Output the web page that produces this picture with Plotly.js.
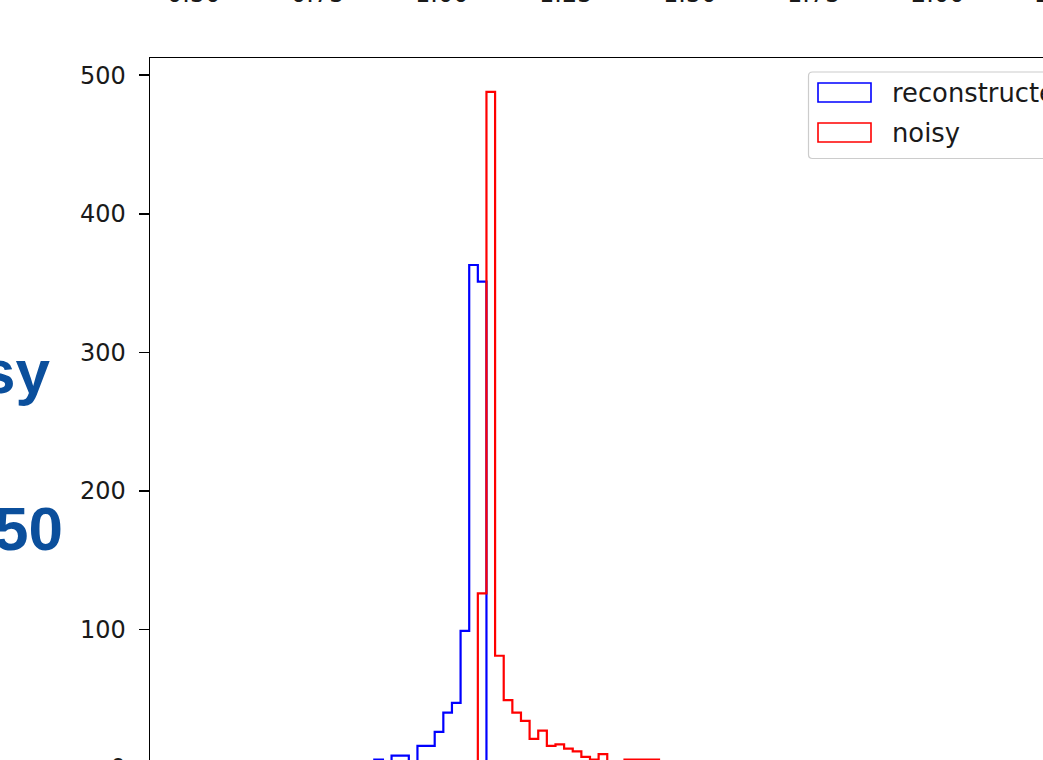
<!DOCTYPE html>
<html>
<head>
<meta charset="utf-8">
<script src="https://cdn.plot.ly/plotly-3.0.1.min.js"></script>
<style>
  html, body { margin: 0; padding: 0; width: 1043px; height: 760px; overflow: hidden; background: #fff; }
  #chart { width: 1200px; height: 800px; }
</style>
</head>
<body>
<div id="chart"></div>
<script>
// Histogram counts, 100 equal-width bins (bin index 0..99)
const reconstructedCounts = [
  1, 0, 0, 0, 1, 0, 0, 1, 0, 1,
  0, 1, 0, 1, 1, 0, 2, 1, 2, 3,
  2, 6, 4, 9, 9, 4, 16, 16, 26, 40,
  47, 99, 363, 351, 0, 0, 0, 0, 0, 0,
  0, 0, 0, 0, 0, 0, 0, 0, 0, 0,
  0, 0, 0, 0, 0, 0, 0, 0, 0, 0,
  0, 0, 0, 0, 0, 0, 0, 0, 0, 0,
  0, 0, 0, 0, 0, 0, 0, 0, 0, 0,
  0, 0, 0, 0, 0, 0, 0, 0, 0, 0,
  0, 0, 0, 0, 0, 0, 0, 0, 0, 0
];
const noisyCounts = [
  0, 0, 0, 0, 0, 0, 0, 0, 0, 0,
  0, 0, 0, 0, 0, 0, 0, 0, 0, 0,
  0, 0, 0, 0, 0, 0, 0, 0, 0, 0,
  0, 1, 3, 126, 488, 81, 49, 40, 34, 21,
  27, 16, 17, 14, 12, 8, 6, 10, 4, 3,
  6, 6, 6, 6, 3, 2, 4, 2, 1, 3,
  1, 2, 0, 1, 1, 0, 2, 1, 0, 1,
  1, 0, 0, 1, 0, 1, 0, 0, 1, 0,
  0, 1, 0, 0, 0, 1, 0, 0, 0, 0,
  1, 0, 0, 0, 0, 0, 0, 0, 0, 1
];
const seriesNames = ['reconstructed', 'noisy'];
const seriesColors = ['#0000ff', '#ff0000'];
const yTickValues = [0, 100, 200, 300, 400, 500];
const topAxisLabels = ['0.50', '0.75', '1.00', '1.25', '1.50', '1.75', '2.00', '2.25'];
const sideLabels = ['sy', '50'];

// Figure geometry (pixels)
const W = 1200, H = 800;
const M = { l: 150, t: 58, r: 101, b: 32 };
const plotW = W - M.l - M.r;
const plotH = H - M.t - M.b;
const px2fx = px => (px - M.l) / plotW;
const py2fy = py => (H - M.b - py) / plotH;

// Step outline of a histogram (outline only, like an unfilled step histogram)
function stepTrace(counts, name, color) {
  const x = [0];
  const y = [0];
  for (let i = 0; i < counts.length; i++) { x.push(i); y.push(counts[i]); }
  x.push(counts.length); y.push(0);
  return {
    type: 'scatter', mode: 'lines', name: name,
    x: x, y: y,
    line: { shape: 'hv', color: color, width: 2.2 },
    hoverinfo: 'skip', showlegend: false
  };
}

const nBins = noisyCounts.length;
const maxCount = Math.max(...reconstructedCounts, ...noisyCounts);
const traces = [
  stepTrace(reconstructedCounts, seriesNames[0], seriesColors[0]),
  stepTrace(noisyCounts, seriesNames[1], seriesColors[1])
];

// Legend drawn as a framed box with rectangle handles
function roundedRect(x0, y0, x1, y1, r) {
  const X = v => px2fx(v), Y = v => py2fy(v);
  return 'M' + X(x0 + r) + ',' + Y(y0) +
    ' L' + X(x1 - r) + ',' + Y(y0) + ' Q' + X(x1) + ',' + Y(y0) + ' ' + X(x1) + ',' + Y(y0 + r) +
    ' L' + X(x1) + ',' + Y(y1 - r) + ' Q' + X(x1) + ',' + Y(y1) + ' ' + X(x1 - r) + ',' + Y(y1) +
    ' L' + X(x0 + r) + ',' + Y(y1) + ' Q' + X(x0) + ',' + Y(y1) + ' ' + X(x0) + ',' + Y(y1 - r) +
    ' L' + X(x0) + ',' + Y(y0 + r) + ' Q' + X(x0) + ',' + Y(y0) + ' ' + X(x0 + r) + ',' + Y(y0) + ' Z';
}

const shapes = [{
  type: 'path', xref: 'paper', yref: 'paper',
  path: roundedRect(808.5, 72, 1093, 158.5, 4),
  fillcolor: 'rgba(255,255,255,0.8)', line: { color: '#cccccc', width: 1.2 }
}];
const annotations = [];
const legendRowY = [92.5, 132.5];
seriesNames.forEach((nm, i) => {
  shapes.push({
    type: 'rect', xref: 'paper', yref: 'paper',
    x0: px2fx(818), x1: px2fx(871),
    y0: py2fy(legendRowY[i] - 9.5), y1: py2fy(legendRowY[i] + 9.5),
    fillcolor: 'rgba(0,0,0,0)', line: { color: seriesColors[i], width: 1.6 }
  });
  annotations.push({
    xref: 'paper', yref: 'paper', x: px2fx(890), y: py2fy(legendRowY[i]),
    xanchor: 'left', yanchor: 'middle', showarrow: false, text: nm,
    font: { family: 'DejaVu Sans', size: 25.8, color: '#1a1a1a' }
  });
});

// Tick labels of the axis above
topAxisLabels.forEach((t, k) => {
  annotations.push({
    xref: 'paper', yref: 'paper', x: px2fx(193 + 124 * k), y: py2fy(-6),
    xanchor: 'center', yanchor: 'middle', showarrow: false, text: t,
    font: { family: 'DejaVu Sans', size: 24, color: '#1a1a1a' }
  });
});

// Side heading text
const sidePos = [{ x: 52, y: 371 }, { x: 65, y: 528 }];
sideLabels.forEach((t, i) => {
  annotations.push({
    xref: 'paper', yref: 'paper', x: px2fx(sidePos[i].x), y: py2fy(sidePos[i].y),
    xanchor: 'right', yanchor: 'middle', showarrow: false, text: t,
    font: { family: 'Liberation Sans', size: 62, color: '#0b4f9c', weight: 'bold' }
  });
});

const layout = {
  width: W, height: H,
  margin: M,
  paper_bgcolor: '#ffffff', plot_bgcolor: '#ffffff',
  showlegend: false,
  xaxis: {
    range: [-0.05 * nBins, nBins * 1.05],
    showgrid: false, zeroline: false,
    showline: true, mirror: true, linecolor: '#000000', linewidth: 1.5,
    ticks: '', showticklabels: false, automargin: false, fixedrange: true
  },
  yaxis: {
    range: [0, maxCount * 1.05],
    tickvals: yTickValues,
    showgrid: false, zeroline: false,
    showline: true, mirror: true, linecolor: '#000000', linewidth: 1.5,
    ticks: 'outside', ticklen: 10, tickwidth: 1.5, tickcolor: '#000000',
    ticklabelstandoff: 8,
    tickfont: { family: 'DejaVu Sans', size: 24, color: '#1a1a1a' },
    automargin: false, fixedrange: true
  },
  shapes: shapes,
  annotations: annotations
};

Plotly.newPlot('chart', traces, layout, { staticPlot: true, displayModeBar: false });
</script>
</body>
</html>
